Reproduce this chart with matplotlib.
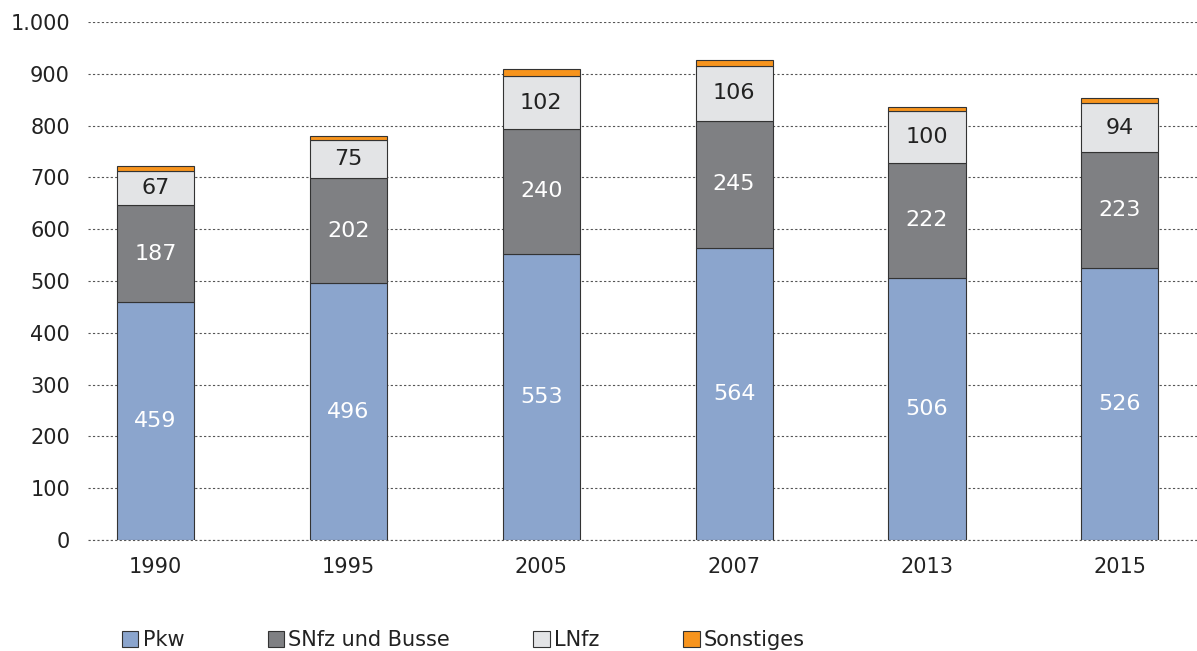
import matplotlib
matplotlib.use("Agg")
import matplotlib.pyplot as plt
import numpy as np

years = ["1990", "1995", "2005", "2007", "2013", "2015"]
pkw = [459, 496, 553, 564, 506, 526]
snfz = [187, 202, 240, 245, 222, 223]
lnfz = [67, 75, 102, 106, 100, 94]
sonstiges = [9, 7, 15, 12, 8, 10]
yticks = [0, 100, 200, 300, 400, 500, 600, 700, 800, 900, 1000]
ytick_labels = ["0", "100", "200", "300", "400", "500", "600", "700", "800", "900", "1.000"]

plt.rcParams['font.family'] = ['DejaVu Sans']

fig = plt.figure(figsize=(11.97, 6.51), dpi=100)
ax = fig.add_axes([88/1197, 111/651, 1 - 88/1197, 518/651])

x = np.arange(len(years))
w = 0.4
edge = "#333333"
c_pkw, c_snfz, c_lnfz, c_son = "#8BA5CD", "#7F8083", "#E3E4E6", "#F7941D"
tc = "#222222"

b1 = ax.bar(x, pkw, w, color=c_pkw, edgecolor=edge, linewidth=0.8, label="Pkw", zorder=3)
bot2 = np.array(pkw)
b2 = ax.bar(x, snfz, w, bottom=bot2, color=c_snfz, edgecolor=edge, linewidth=0.8, label="SNfz und Busse", zorder=3)
bot3 = bot2 + np.array(snfz)
b3 = ax.bar(x, lnfz, w, bottom=bot3, color=c_lnfz, edgecolor=edge, linewidth=0.8, label="LNfz", zorder=3)
bot4 = bot3 + np.array(lnfz)
b4 = ax.bar(x, sonstiges, w, bottom=bot4, color=c_son, edgecolor=edge, linewidth=0.8, label="Sonstiges", zorder=3)

for i in range(len(years)):
    ax.text(x[i], pkw[i] / 2, str(pkw[i]), ha="center", va="center", color="white", fontsize=16, zorder=4)
    ax.text(x[i], bot2[i] + snfz[i] / 2, str(snfz[i]), ha="center", va="center", color="white", fontsize=16, zorder=4)
    ax.text(x[i], bot3[i] + lnfz[i] / 2, str(lnfz[i]), ha="center", va="center", color=tc, fontsize=16, zorder=4)

ax.set_ylim(0, 1000)
ax.set_xlim(-0.35, len(years) - 1 + 0.4)
ax.set_yticks(yticks)
ax.set_yticklabels(ytick_labels)
ax.set_xticks(x)
ax.set_xticklabels(years)
ax.tick_params(axis="both", length=0, labelsize=15, colors=tc)
ax.tick_params(axis="y", pad=13)
ax.tick_params(axis="x", pad=12)
ax.yaxis.grid(True, linestyle=(0, (2, 2)), color="#555555", linewidth=0.8, zorder=0)
ax.axhline(0, linestyle=(0, (2, 2)), color="#555555", linewidth=0.8, zorder=0, clip_on=False)
ax.set_axisbelow(True)
for s in ax.spines.values():
    s.set_visible(False)

handles = [b1, b2, b3, b4]
leg = fig.legend(handles, ["Pkw", "SNfz und Busse", "LNfz", "Sonstiges"], loc="lower left",
                 bbox_to_anchor=(103/1197, -0.028), ncol=4, frameon=False, fontsize=15,
                 handlelength=0.8, handleheight=0.8, handletextpad=0.2, columnspacing=4.0)
for t in leg.get_texts():
    t.set_color(tc)

fig.savefig("out.png", dpi=100)
